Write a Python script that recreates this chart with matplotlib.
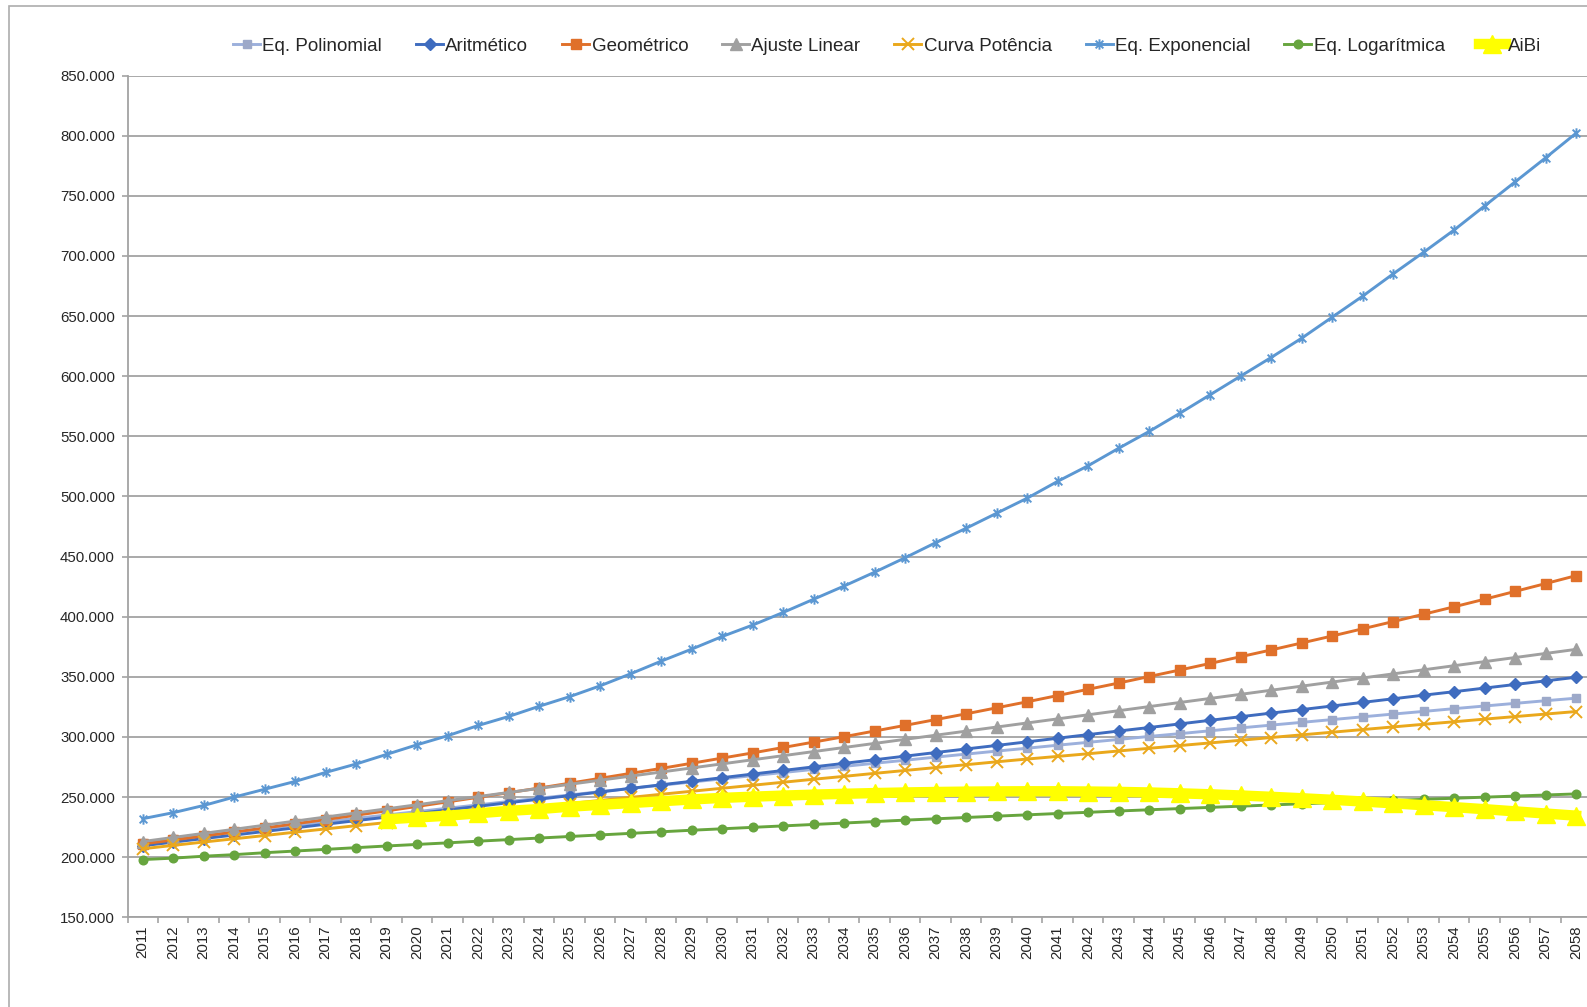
import numpy as np
import matplotlib
matplotlib.use("Agg")
import matplotlib.pyplot as plt
from matplotlib.path import Path
from matplotlib.patches import Rectangle
from matplotlib.ticker import FuncFormatter, FixedLocator

# Projected population (thousands of inhabitants) by method, 2011-2058
anos = list(range(2011, 2059))

eq_polinomial = [212.0, 215.0, 217.9, 220.8, 223.7, 226.6, 229.4, 232.3, 235.1, 237.9,
                 240.7, 243.5, 246.3, 249.0, 251.7, 254.5, 257.2, 259.8, 262.5, 265.1,
                 267.8, 270.4, 273.0, 275.5, 278.1, 280.6, 283.2, 285.7, 288.2, 290.6,
                 293.1, 295.5, 297.9, 300.4, 302.7, 305.1, 307.5, 309.8, 312.1, 314.4,
                 316.7, 319.0, 321.2, 323.5, 325.7, 327.9, 330.1, 332.2]

aritmetico = [209.5, 212.5, 215.5, 218.4, 221.4, 224.4, 227.4, 230.4, 233.3, 236.3,
              239.3, 242.3, 245.3, 248.2, 251.2, 254.2, 257.2, 260.2, 263.1, 266.1,
              269.1, 272.1, 275.1, 278.0, 281.0, 284.0, 287.0, 290.0, 292.9, 295.9,
              298.9, 301.9, 304.9, 307.8, 310.8, 313.8, 316.8, 319.8, 322.7, 325.7,
              328.7, 331.7, 334.7, 337.6, 340.6, 343.6, 346.6, 349.6]

geometrico = [211.0, 214.3, 217.6, 220.9, 224.3, 227.8, 231.3, 234.9, 238.5, 242.2,
              246.0, 249.8, 253.6, 257.5, 261.5, 265.6, 269.7, 273.8, 278.1, 282.4,
              286.7, 291.2, 295.7, 300.2, 304.9, 309.6, 314.4, 319.2, 324.2, 329.2,
              334.4, 339.6, 344.8, 350.2, 355.6, 361.1, 366.7, 372.3, 378.1, 383.9,
              389.9, 395.9, 402.0, 408.2, 414.5, 421.0, 427.5, 434.1]

ajuste_linear = [213.0, 216.4, 219.8, 223.2, 226.6, 230.0, 233.4, 236.8, 240.2, 243.6,
                 247.0, 250.4, 253.8, 257.2, 260.6, 264.0, 267.4, 270.8, 274.2, 277.6,
                 281.0, 284.4, 287.8, 291.2, 294.6, 298.0, 301.4, 304.8, 308.2, 311.6,
                 315.0, 318.4, 321.8, 325.2, 328.6, 332.0, 335.4, 338.8, 342.2, 345.6,
                 349.0, 352.4, 355.8, 359.2, 362.6, 366.0, 369.4, 372.8]

curva_potencia = [207.0, 209.8, 212.6, 215.3, 218.0, 220.8, 223.5, 226.2, 228.8, 231.5,
                  234.1, 236.8, 239.4, 242.0, 244.6, 247.2, 249.7, 252.3, 254.8, 257.3,
                  259.8, 262.3, 264.8, 267.2, 269.7, 272.1, 274.5, 276.9, 279.3, 281.6,
                  283.8, 286.0, 288.3, 290.5, 292.8, 295.0, 297.2, 299.5, 301.7, 303.9,
                  306.1, 308.3, 310.5, 312.6, 314.8, 316.9, 319.0, 321.1]

eq_exponencial = [232.0, 237.0, 243.0, 250.0, 256.5, 263.0, 270.5, 277.5, 285.5, 293.5,
                  301.0, 309.5, 317.0, 325.5, 333.5, 342.5, 352.5, 363.0, 373.0, 383.5,
                  393.0, 403.5, 414.5, 425.5, 437.0, 449.0, 461.5, 473.5, 486.0, 498.5,
                  512.5, 525.5, 540.0, 554.0, 569.0, 584.5, 600.0, 615.5, 631.5, 649.0,
                  666.5, 685.0, 703.0, 721.5, 741.5, 761.5, 781.5, 802.0]

eq_logaritmica = [198.0, 199.2, 200.8, 202.1, 203.7, 205.1, 206.5, 207.9, 209.3, 210.6,
                  211.9, 213.3, 214.6, 215.9, 217.2, 218.5, 219.8, 221.1, 222.4, 223.6,
                  224.8, 226.0, 227.2, 228.4, 229.6, 230.8, 231.9, 233.0, 234.1, 235.2,
                  236.3, 237.3, 238.4, 239.4, 240.4, 241.4, 242.4, 243.4, 244.4, 245.3,
                  246.3, 247.2, 248.1, 249.0, 249.9, 250.8, 251.7, 252.6]

aibi = [None, None, None, None, None, None, None, None,
        231.5, 233.0, 234.5, 236.5, 238.5, 240.0, 242.0, 243.5, 245.0, 246.5,
        248.0, 249.3, 250.3, 251.2, 252.0, 252.7, 253.3, 253.8, 254.2, 254.5,
        254.7, 254.8, 254.8, 254.6, 254.3, 253.8, 253.1, 252.3, 251.3, 250.2,
        249.0, 247.7, 246.3, 244.8, 243.2, 241.6, 239.9, 238.1, 236.3, 234.5]

y_ticks = [150, 200, 250, 300, 350, 400, 450, 500, 550, 600, 650, 700, 750, 800, 850]

# Asterisk marker: an X with a vertical bar through it
asterisk = Path([(-1, -1), (1, 1), (-1, 1), (1, -1), (0, -1.35), (0, 1.35)],
                [Path.MOVETO, Path.LINETO, Path.MOVETO, Path.LINETO, Path.MOVETO, Path.LINETO])

series = [
    ("Eq. Polinomial", eq_polinomial, dict(color="#9CB0DC", mec="#9DA9C9", marker="s", ms=5.3, lw=2.1)),
    ("Aritmético", aritmetico, dict(color="#3F6CBF", marker="D", ms=6.3, lw=2.1)),
    ("Geométrico", geometrico, dict(color="#E0702A", marker="s", ms=6.5, lw=2.1)),
    ("Ajuste Linear", ajuste_linear, dict(color="#A0A0A0", marker="^", ms=8.0, lw=2.1)),
    ("Curva Potência", curva_potencia, dict(color="#EAA81C", marker="x", ms=8.0, lw=2.1, mew=1.4)),
    ("Eq. Exponencial", eq_exponencial, dict(color="#5B97D2", marker=asterisk, ms=7.5, lw=2.1,
                                             mew=1.4, mfc="none")),
    ("Eq. Logarítmica", eq_logaritmica, dict(color="#67A53E", marker="o", ms=6.2, lw=2.1)),
    ("AiBi", np.array(aibi, dtype=float), dict(color="#FFFF00", marker="^", ms=13.0, lw=7.5)),
]

plt.rcParams["font.family"] = ["Liberation Sans", "DejaVu Sans"]

W, H = 1587, 1007
fig = plt.figure(figsize=(W / 100, H / 100), dpi=100)
fig.patch.set_facecolor("white")

# Chart frame (left and top edges visible)
fig.add_artist(Rectangle((8.5 / W, -0.05), 1.2, 1.05 - 6 / H, transform=fig.transFigure,
                         fill=False, edgecolor="#ADADAD", lw=1.2))

left, right = 127.5 / W, 1591.3 / W
bottom, top = (H - 917.3) / H, (H - 75.5) / H
ax = fig.add_axes([left, bottom, right - left, top - bottom])

x = np.arange(len(anos))
handles = []
for label, values, style in series:
    kw = dict(style)
    color = kw.pop("color")
    mec = kw.pop("mec", color)
    h, = ax.plot(x, values, color=color, markeredgecolor=mec,
                 markerfacecolor=kw.pop("mfc", mec), label=label, **kw)
    handles.append(h)

ax.set_xlim(-0.5, len(anos) - 0.5)
ax.set_ylim(150, 850)

ax.yaxis.set_major_locator(FixedLocator(y_ticks))
ax.yaxis.set_major_formatter(FuncFormatter(lambda v, p: f"{int(round(v * 1000)):,}".replace(",", ".")))
ax.grid(axis="y", color="#A3A3A3", lw=1.3)
ax.set_axisbelow(True)

ax.set_xticks(x)
ax.set_xticklabels([str(a) for a in anos], rotation=90)
ax.set_xticks(np.arange(len(anos) + 1) - 0.5, minor=True)
ax.tick_params(axis="x", which="major", length=0, pad=6, labelsize=10.8, labelcolor="#262626")
ax.tick_params(axis="x", which="minor", length=4.5, width=1.2, color="#A3A3A3")
ax.tick_params(axis="y", length=4.5, width=1.2, color="#A3A3A3", pad=4.5, labelsize=10.8,
               labelcolor="#262626")

for s in ("top", "right"):
    ax.spines[s].set_visible(False)
for s in ("left", "bottom"):
    ax.spines[s].set_color("#A3A3A3")
    ax.spines[s].set_linewidth(1.3)

leg = fig.legend(handles=handles, loc="center left", bbox_to_anchor=(233 / W, 1 - 46 / H),
                 ncol=8, frameon=False,
                 prop={"family": ["Liberation Sans Narrow", "Liberation Sans"], "size": 13.5},
                 handlelength=1.45, handletextpad=0.12, columnspacing=1.8,
                 borderpad=0, borderaxespad=0)
for t in leg.get_texts():
    t.set_color("#262626")

fig.savefig("out.png", dpi=100, facecolor="white")
